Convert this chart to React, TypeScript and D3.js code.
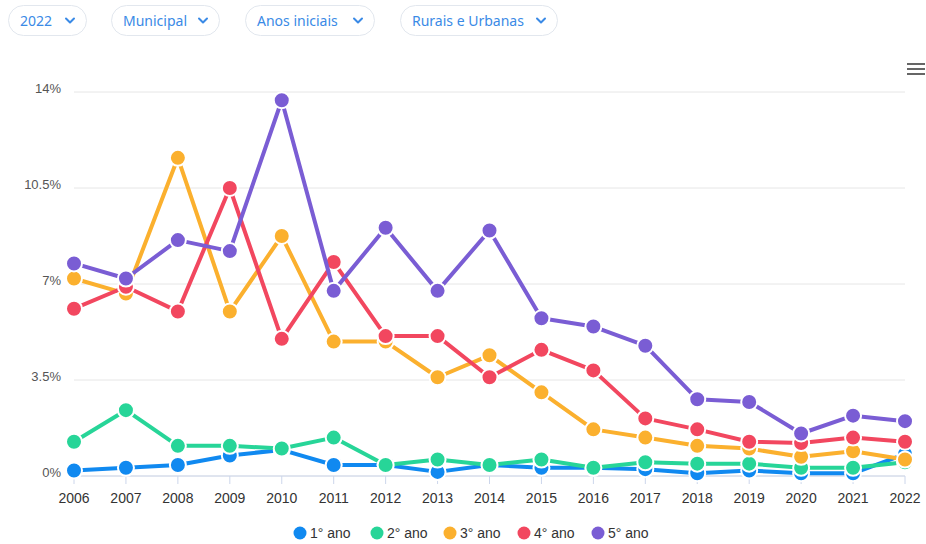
import React from "react";
import * as d3 from "d3";

// filtros do topo
const filters = ["2022", "Municipal", "Anos iniciais", "Rurais e Urbanas"];
const filterX = [8, 111, 245, 400];
const filterW = [78, 108, 129, 157];

const years = [2006, 2007, 2008, 2009, 2010, 2011, 2012, 2013, 2014, 2015, 2016, 2017, 2018, 2019, 2020, 2021, 2022];
const yTicks = [0, 3.5, 7, 10.5, 14];
const yTickLabels = ["0%", "3.5%", "7%", "10.5%", "14%"];

const ano1 = [0.2, 0.3, 0.4, 0.75, 0.95, 0.4, 0.4, 0.15, 0.4, 0.3, 0.3, 0.25, 0.1, 0.2, 0.1, 0.1, 0.8];
const ano2 = [1.25, 2.4, 1.1, 1.1, 1.0, 1.4, 0.4, 0.6, 0.4, 0.6, 0.3, 0.5, 0.45, 0.45, 0.3, 0.3, 0.5];
const ano3 = [7.2, 6.65, 11.6, 6.0, 8.75, 4.9, 4.9, 3.6, 4.4, 3.05, 1.7, 1.4, 1.1, 1.0, 0.7, 0.9, 0.6];
const ano4 = [6.1, 6.9, 6.0, 10.5, 5.0, 7.8, 5.1, 5.1, 3.6, 4.6, 3.85, 2.1, 1.7, 1.25, 1.2, 1.4, 1.25];
const ano5 = [7.75, 7.2, 8.6, 8.2, 13.7, 6.75, 9.05, 6.75, 8.95, 5.75, 5.45, 4.75, 2.8, 2.7, 1.55, 2.2, 2.0];

const seriesNames = ["1° ano", "2° ano", "3° ano", "4° ano", "5° ano"];
const seriesData = [ano1, ano2, ano3, ano4, ano5];
const colors = ["#1089f0", "#27d598", "#fbb02e", "#f2475f", "#7a5dd4"];

const W = 926;
const H = 544;
const margin = { left: 74, right: 21, top: 92, bottom: 68 };

export default function App() {
  const x = d3.scalePoint<number>().domain(years).range([margin.left, W - margin.right]);
  const y = d3.scaleLinear().domain([0, 14]).range([H - margin.bottom, margin.top]);
  const line = d3
    .line<number>()
    .x((_, i) => x(years[i]) as number)
    .y((d) => y(d));

  const font = "'Liberation Sans', Arial, Helvetica, sans-serif";
  const legendX = [300, 377, 450, 524, 598];

  return (
    <svg width={W} height={H} style={{ position: "absolute", left: 0, top: 0, background: "#fff" }}>
      {/* dropdowns */}
      {filters.map((f, i) => (
        <g key={f} transform={`translate(${filterX[i]},5)`}>
          <rect x={0.5} y={0.5} width={filterW[i]} height={30} rx={15} fill="#fff" stroke="#e2e7ee" />
          <text x={12} y={20.5} fontFamily="'Noto Sans', Lato, sans-serif" fontSize={14} fill="#3a8ae6">
            {f}
          </text>
          <path
            d={`M${filterW[i] - 20},13.5 l4,4 l4,-4`}
            fill="none"
            stroke="#3a8ae6"
            strokeWidth={2}
            strokeLinecap="round"
            strokeLinejoin="round"
          />
        </g>
      ))}

      {/* menu */}
      {[64, 69, 74].map((yy) => (
        <line key={yy} x1={907} x2={925} y1={yy} y2={yy} stroke="#666" strokeWidth={2} />
      ))}

      {/* grid */}
      {yTicks.map((t, i) => (
        <g key={t}>
          <line x1={margin.left} x2={W - margin.right} y1={y(t)} y2={y(t)} stroke="#e6e6e6" strokeWidth={1} />
          <text x={61} y={y(t) + 1} textAnchor="end" fontFamily={font} fontSize={13} fill="#555">
            {yTickLabels[i]}
          </text>
        </g>
      ))}
      <line x1={margin.left} x2={W - margin.right} y1={y(0)} y2={y(0)} stroke="#ccd6eb" />
      {years.map((yr) => (
        <g key={yr}>
          <line x1={x(yr)} x2={x(yr)} y1={y(0)} y2={y(0) + 8} stroke="#ccd6eb" />
          <text x={x(yr)} y={503} textAnchor="middle" fontFamily={font} fontSize={14} fill="#333">
            {yr}
          </text>
        </g>
      ))}

      {/* series */}
      {seriesData.map((s, si) => (
        <g key={si}>
          <path d={line(s) || ""} fill="none" stroke={colors[si]} strokeWidth={4} strokeLinejoin="round" />
          {s.map((v, i) => (
            <circle key={i} cx={x(years[i])} cy={y(v)} r={8} fill={colors[si]} stroke="#fff" strokeWidth={2} />
          ))}
        </g>
      ))}

      {/* legend */}
      {seriesNames.map((n, i) => (
        <g key={n}>
          <circle cx={legendX[i]} cy={533} r={6.5} fill={colors[i]} />
          <text x={legendX[i] + 10} y={538} fontFamily={font} fontSize={14} fill="#333">
            {n}
          </text>
        </g>
      ))}
    </svg>
  );
}
